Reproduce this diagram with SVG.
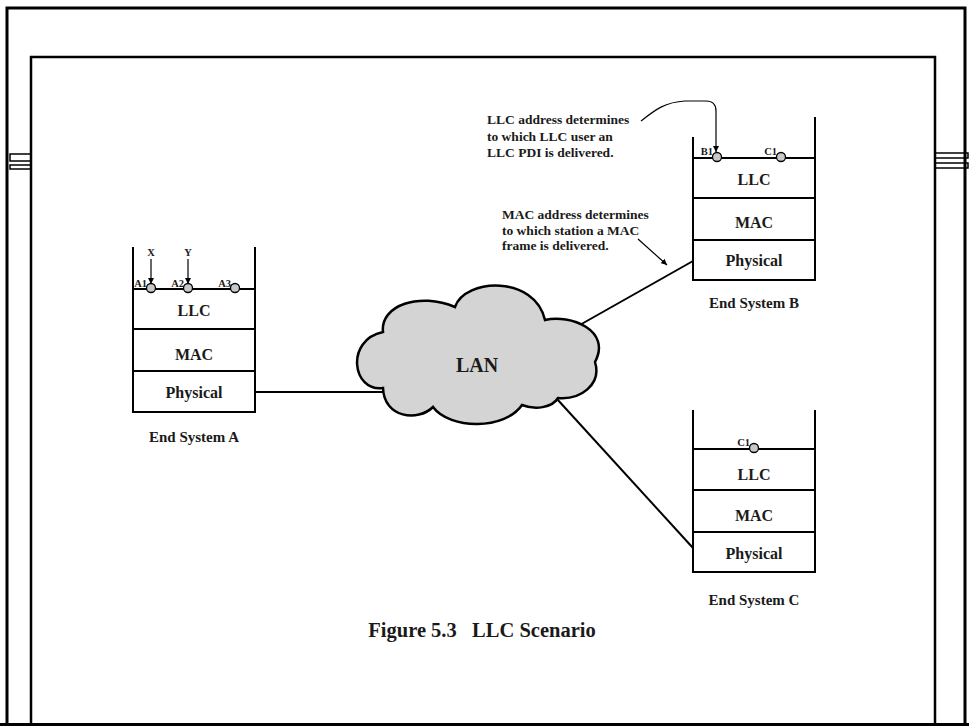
<svg xmlns="http://www.w3.org/2000/svg" width="969" height="726" viewBox="0 0 969 726">
<defs>
<marker id="ah" viewBox="0 0 10 10" refX="10" refY="5" markerWidth="6" markerHeight="6" markerUnits="userSpaceOnUse" orient="auto">
<path d="M0,0 L10,5 L0,10 Z" fill="#000"/>
</marker>
</defs>
<style>
text{font-family:"Liberation Serif","Times New Roman",serif;font-weight:bold;fill:#1a1a1a}
.lay{font-size:16px;text-anchor:middle}
.cap{font-size:15px;text-anchor:middle}
.sm{font-size:10.5px}
.note{font-size:13.5px}
.stk{fill:none;stroke:#000;stroke-width:2}
.div{stroke:#000;stroke-width:2}
.sap{fill:#c8c8c8;stroke:#000;stroke-width:1.3}
.conn{stroke:#000;stroke-width:2;fill:none}
.arr{stroke:#000;stroke-width:1.2;fill:none}
.frame{fill:none;stroke:#000}
</style>
<rect width="969" height="726" fill="#fff"/>
<g id="frame">
<path class="frame" stroke-width="3" d="M7,726 V8 H965 V726"/>
<path class="frame" stroke-width="2.5" d="M31,726 V57 H935 V726"/>
<line x1="0" y1="724.5" x2="969" y2="724.5" stroke="#000" stroke-width="3"/>
<rect x="10" y="154" width="21" height="7" fill="none" stroke="#000" stroke-width="1.5"/>
<rect x="10" y="165" width="21" height="4" fill="none" stroke="#000" stroke-width="1.5"/>
<rect x="935" y="153" width="33" height="5" fill="none" stroke="#000" stroke-width="1.5"/>
<rect x="935" y="163" width="33" height="5" fill="none" stroke="#000" stroke-width="1.5"/>
</g>
<g id="connectors">
<line class="conn" x1="255" y1="392" x2="384" y2="392"/>
<line class="conn" x1="578" y1="326" x2="693" y2="261"/>
<line class="conn" x1="557" y1="399" x2="693" y2="548"/>
<path class="arr" marker-end="url(#ah)" d="M151,259 L151,284"/>
<path class="arr" marker-end="url(#ah)" d="M188,259 L188,284"/>
<path class="arr" marker-end="url(#ah)" d="M641,121 C655,110 665,102 685,101 L706,101 Q716,101 716,111 L716,152"/>
<path class="arr" marker-end="url(#ah)" d="M638,239 L667,265"/>
</g>
<g id="lan">
<path d="M383,388 C352,392 345,340 383,332 C380,305 420,292 455,307 C465,278 535,275 545,320 C570,314 612,330 595,362 C602,385 580,400 558,398 C552,408 535,410 522,405 C505,430 450,430 433,407 C418,422 384,418 383,388 Z" fill="#d4d4d4" stroke="#000" stroke-width="2.5"/>
<text x="477" y="372" style="font-size:20px;text-anchor:middle">LAN</text>
</g>
<g id="systemA">
<path class="stk" d="M133,247 V412 H255 V247"/>
<line class="div" x1="133" y1="289" x2="255" y2="289"/>
<line class="div" x1="133" y1="329" x2="255" y2="329"/>
<line class="div" x1="133" y1="371" x2="255" y2="371"/>
<circle class="sap" cx="151" cy="288" r="4.5"/>
<circle class="sap" cx="188" cy="288" r="4.5"/>
<circle class="sap" cx="235" cy="288" r="4.5"/>
<text class="sm" x="147" y="287" text-anchor="end">A1</text>
<text class="sm" x="184" y="287" text-anchor="end">A2</text>
<text class="sm" x="231" y="287" text-anchor="end">A3</text>
<text class="sm" x="151" y="256" text-anchor="middle">X</text>
<text class="sm" x="188" y="256" text-anchor="middle">Y</text>
<text class="lay" x="194" y="316">LLC</text>
<text class="lay" x="194" y="360">MAC</text>
<text class="lay" x="194" y="398">Physical</text>
<text class="cap" x="194" y="442">End System A</text>
</g>
<g id="systemB">
<path class="stk" d="M693,137 V280 H815 V117"/>
<line class="div" x1="693" y1="158" x2="815" y2="158"/>
<line class="div" x1="693" y1="198" x2="815" y2="198"/>
<line class="div" x1="693" y1="240" x2="815" y2="240"/>
<circle class="sap" cx="717" cy="157" r="4.5"/>
<circle class="sap" cx="781" cy="157" r="4.5"/>
<text class="sm" x="713" y="155" text-anchor="end">B1</text>
<text class="sm" x="777" y="155" text-anchor="end">C1</text>
<text class="lay" x="754" y="185">LLC</text>
<text class="lay" x="754" y="228">MAC</text>
<text class="lay" x="754" y="266">Physical</text>
<text class="cap" x="754" y="308">End System B</text>
</g>
<g id="systemC">
<path class="stk" d="M693,410 V572 H815 V410"/>
<line class="div" x1="693" y1="449" x2="815" y2="449"/>
<line class="div" x1="693" y1="490" x2="815" y2="490"/>
<line class="div" x1="693" y1="532" x2="815" y2="532"/>
<circle class="sap" cx="754" cy="448" r="4.5"/>
<text class="sm" x="750" y="446" text-anchor="end">C1</text>
<text class="lay" x="754" y="480">LLC</text>
<text class="lay" x="754" y="521">MAC</text>
<text class="lay" x="754" y="559">Physical</text>
<text class="cap" x="754" y="605">End System C</text>
</g>
<g id="note-llc">
<text class="note" x="487" y="124">LLC address determines</text>
<text class="note" x="487" y="141">to which LLC user an</text>
<text class="note" x="487" y="157">LLC PDI is delivered.</text>
</g>
<g id="note-mac">
<text class="note" x="502" y="219">MAC address determines</text>
<text class="note" x="502" y="235">to which station a MAC</text>
<text class="note" x="502" y="250">frame is delivered.</text>
</g>
<g id="caption">
<text x="482" y="637" style="font-size:20.5px;text-anchor:middle" xml:space="preserve">Figure 5.3   LLC Scenario</text>
</g>
</svg>
